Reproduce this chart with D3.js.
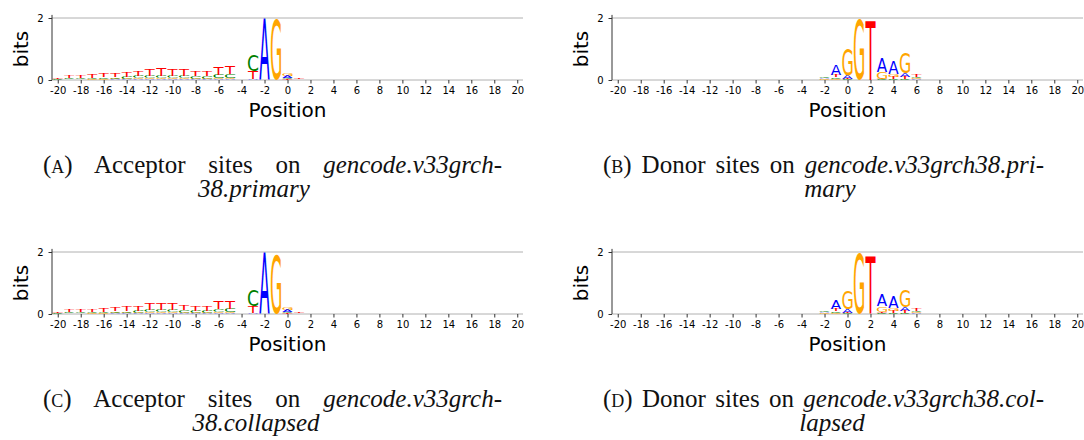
<!DOCTYPE html>
<html>
<head>
<meta charset="utf-8">
<script src="https://cdn.jsdelivr.net/npm/d3@7"></script>
<style>
  body { margin: 0; background: #fff; }
  svg { display: block; }
</style>
</head>
<body>
<svg id="fig" width="1084" height="440"></svg>
<script>
// ---- positions around the splice site and axis ticks ----
const positions = [-20,-19,-18,-17,-16,-15,-14,-13,-12,-11,-10,-9,-8,-7,-6,-5,-4,-3,-2,-1,0,
                   1,2,3,4,5,6,7,8,9,10,11,12,13,14,15,16,17,18,19,20];
const xTickValues = [-20,-18,-16,-14,-12,-10,-8,-6,-4,-2,0,2,4,6,8,10,12,14,16,18,20];
const yTickValues = [0, 2];
const bases = ["A", "C", "G", "T"];
const baseColors = { A: "#0000ff", C: "#008000", G: "#ffa500", T: "#ff0000" };

// ---- information content (bits) per base, positions -20 .. 20 ----
// Acceptor sites, gencode.v33grch38.primary
const accPrimA = [0.005,0.01,0.012,0.015,0.015,0.02,0.02,0.022,0.025,0.025,0.025,0.022,0.02,0.02,0.025,0.028,0.005,0.03,1.97,0.01,0.07,0.01,0,0,0,0,0,0,0,0,0,0,0,0,0,0,0,0,0,0,0];
const accPrimC = [0.02,0.03,0.035,0.04,0.05,0.06,0.065,0.07,0.08,0.09,0.08,0.075,0.07,0.07,0.11,0.12,0.01,0.53,0.005,0,0.04,0.01,0,0,0,0,0,0,0,0,0,0,0,0,0,0,0,0,0,0,0];
const accPrimG = [0.006,0.012,0.014,0.018,0.018,0.022,0.025,0.027,0.03,0.03,0.03,0.027,0.026,0.026,0.03,0.032,0.005,0.01,0.005,1.95,0.1,0.01,0,0,0,0,0,0,0,0,0,0,0,0,0,0,0,0,0,0,0];
const accPrimT = [0.05,0.07,0.09,0.11,0.12,0.14,0.16,0.18,0.21,0.23,0.21,0.19,0.17,0.17,0.25,0.26,0.01,0.24,0,0,0.03,0.02,0,0,0,0,0,0,0,0,0,0,0,0,0,0,0,0,0,0,0];

// Donor sites, gencode.v33grch38.primary
const donPrimA = [0,0,0,0,0,0,0,0,0,0,0,0,0,0,0,0,0,0.005,0.035,0.33,0.12,0,0.005,0.46,0.4,0.12,0.02,0,0,0,0,0,0,0,0,0,0,0,0,0,0];
const donPrimC = [0,0,0,0,0,0,0,0,0,0,0,0,0,0,0,0,0,0.005,0.04,0.05,0.02,0,0.005,0.02,0.03,0.03,0.04,0,0,0,0,0,0,0,0,0,0,0,0,0,0];
const donPrimG = [0,0,0,0,0,0,0,0,0,0,0,0,0,0,0,0,0,0.005,0.03,0.04,0.87,1.96,0,0.22,0.1,0.65,0.03,0,0,0,0,0,0,0,0,0,0,0,0,0,0];
const donPrimT = [0,0,0,0,0,0,0,0,0,0,0,0,0,0,0,0,0,0.005,0.015,0.06,0.02,0,1.92,0.02,0.06,0.06,0.08,0,0,0,0,0,0,0,0,0,0,0,0,0,0];

// Acceptor sites, gencode.v33grch38.collapsed
const accCollA = [0.005,0.01,0.012,0.014,0.015,0.018,0.02,0.02,0.023,0.024,0.024,0.02,0.02,0.02,0.024,0.026,0.005,0.03,1.97,0.01,0.06,0.01,0,0,0,0,0,0,0,0,0,0,0,0,0,0,0,0,0,0,0];
const accCollC = [0.02,0.03,0.033,0.038,0.047,0.056,0.06,0.066,0.075,0.085,0.077,0.07,0.066,0.066,0.1,0.11,0.01,0.5,0.005,0,0.035,0.01,0,0,0,0,0,0,0,0,0,0,0,0,0,0,0,0,0,0,0];
const accCollG = [0.006,0.011,0.013,0.017,0.017,0.02,0.023,0.025,0.028,0.028,0.028,0.025,0.024,0.024,0.028,0.03,0.005,0.01,0.005,1.93,0.09,0.01,0,0,0,0,0,0,0,0,0,0,0,0,0,0,0,0,0,0,0];
const accCollT = [0.05,0.065,0.085,0.1,0.11,0.13,0.15,0.17,0.2,0.21,0.2,0.18,0.16,0.16,0.23,0.24,0.01,0.21,0,0,0.03,0.02,0,0,0,0,0,0,0,0,0,0,0,0,0,0,0,0,0,0,0];

// Donor sites, gencode.v33grch38.collapsed
const donCollA = [0,0,0,0,0,0,0,0,0,0,0,0,0,0,0,0,0,0.005,0.03,0.3,0.11,0,0.005,0.38,0.38,0.12,0.02,0,0,0,0,0,0,0,0,0,0,0,0,0,0];
const donCollC = [0,0,0,0,0,0,0,0,0,0,0,0,0,0,0,0,0,0.005,0.035,0.05,0.02,0,0.005,0.03,0.03,0.03,0.04,0,0,0,0,0,0,0,0,0,0,0,0,0,0];
const donCollG = [0,0,0,0,0,0,0,0,0,0,0,0,0,0,0,0,0,0.005,0.025,0.04,0.62,1.98,0,0.19,0.1,0.55,0.03,0,0,0,0,0,0,0,0,0,0,0,0,0,0];
const donCollT = [0,0,0,0,0,0,0,0,0,0,0,0,0,0,0,0,0,0.005,0.015,0.06,0.02,0,1.88,0.03,0.06,0.06,0.08,0,0,0,0,0,0,0,0,0,0,0,0,0,0];

// ---- caption texts ----
const captionLetters = ["a", "b", "c", "d"];
const captionPlain = ["Acceptor sites on ", "Donor sites on ", "Acceptor sites on ", "Donor sites on "];
const captionItalic1 = ["gencode.v33grch-", "gencode.v33grch38.pri-", "gencode.v33grch-", "gencode.v33grch38.col-"];
const captionItalic2 = ["38.primary", "mary", "38.collapsed", "lapsed"];

// ---- layout ----
const plotW = 471, plotH = 62;
const panels = [
  { ox: 52,  oy: 18,  data: { A: accPrimA, C: accPrimC, G: accPrimG, T: accPrimT },
    cap: { x0: 43,  x1: 502,  y: 173, cx2: 254 } },
  { ox: 612, oy: 18,  data: { A: donPrimA, C: donPrimC, G: donPrimG, T: donPrimT },
    cap: { x0: 603, x1: 1044, y: 173, cx2: 830 } },
  { ox: 52,  oy: 252, data: { A: accCollA, C: accCollC, G: accCollG, T: accCollT },
    cap: { x0: 43,  x1: 502,  y: 407, cx2: 256 } },
  { ox: 612, oy: 252, data: { A: donCollA, C: donCollC, G: donCollG, T: donCollT },
    cap: { x0: 603, x1: 1044, y: 407, cx2: 832 } }
];
const captionFont = "Liberation Serif";
const captionSize = 25;
const captionLead = 24;

const x = d3.scaleLinear().domain([-20.5, 20.5]).range([0, plotW]);
const y = d3.scaleLinear().domain([0, 2]).range([plotH, 0]);
const letterWidth = 0.9;

// ink bounds of each glyph, so a letter can be stretched to fill its box exactly
const glyphFont = "DejaVu Sans";
const glyphSize = 100;
const ctx = document.createElement("canvas").getContext("2d");
ctx.font = `${glyphSize}px '${glyphFont}'`;
const ink = {};
bases.forEach(b => {
  const m = ctx.measureText(b);
  ink[b] = { l: m.actualBoundingBoxLeft, r: m.actualBoundingBoxRight,
             a: m.actualBoundingBoxAscent, d: m.actualBoundingBoxDescent };
});

const svg = d3.select("#fig");

panels.forEach((p, pi) => {
  const g = svg.append("g").attr("transform", `translate(${p.ox},${p.oy})`);

  // reference lines at 0 and 2 bits
  g.append("line").attr("x1", 0).attr("x2", plotW).attr("y1", y(2)).attr("y2", y(2))
    .attr("stroke", "#b0b0b0").attr("stroke-width", 1);
  g.append("line").attr("x1", 0).attr("x2", plotW).attr("y1", y(0)).attr("y2", y(0))
    .attr("stroke", "#b0b0b0").attr("stroke-width", 1);

  // stacked letters, smallest at the bottom
  const stacks = positions.map((pos, i) => {
    const items = bases.map(b => ({ base: b, v: p.data[b][i] }))
      .filter(d => d.v > 0)
      .sort((a, b) => a.v - b.v);
    let acc = 0;
    items.forEach(d => { d.y0 = acc; acc += d.v; d.y1 = acc; d.pos = pos; });
    return items;
  }).flat();

  g.append("g").selectAll("text.letter").data(stacks).join("text")
    .attr("class", "letter")
    .attr("font-family", glyphFont)
    .attr("font-size", glyphSize)
    .attr("fill", d => baseColors[d.base])
    .attr("transform", d => {
      const m = ink[d.base];
      const rx = x(d.pos - letterWidth / 2);
      const w = x(d.pos + letterWidth / 2) - rx;
      const ry = y(d.y1);
      const h = y(d.y0) - ry;
      const sx = w / (m.l + m.r);
      const sy = h / (m.a + m.d);
      return `translate(${rx + m.l * sx},${ry + m.a * sy}) scale(${sx},${sy})`;
    })
    .text(d => d.base);

  // bottom axis
  const xAxis = d3.axisBottom(x).tickValues(xTickValues).tickSize(3.5).tickPadding(3.5)
    .tickFormat(d => String(d));
  const xg = g.append("g").attr("transform", `translate(0,${y(0)})`).call(xAxis);
  xg.select(".domain").remove();
  xg.selectAll(".tick line").attr("stroke", "#333").attr("stroke-width", 1);
  xg.selectAll(".tick text").attr("font-family", "DejaVu Sans").attr("font-size", 10).attr("fill", "#000");

  // left axis
  const yAxis = d3.axisLeft(y).tickValues(yTickValues).tickSize(3.5).tickPadding(5)
    .tickFormat(d3.format("d"));
  const yg = g.append("g").call(yAxis);
  yg.select(".domain").remove();
  yg.selectAll(".tick line").attr("stroke", "#333");
  yg.selectAll(".tick text").attr("font-family", "DejaVu Sans").attr("font-size", 10).attr("fill", "#000");
  g.append("line").attr("x1", 0).attr("x2", 0).attr("y1", y(2.1)).attr("y2", y(0))
    .attr("stroke", "#333").attr("stroke-width", 1);

  // axis titles
  g.append("text").attr("transform", `translate(-24,${plotH / 2}) rotate(-90)`)
    .attr("text-anchor", "middle").attr("font-family", "DejaVu Sans").attr("font-size", 20)
    .attr("fill", "#000").text("bits");
  g.append("text").attr("x", plotW / 2).attr("y", plotH + 37)
    .attr("text-anchor", "middle").attr("font-family", "DejaVu Sans").attr("font-size", 20)
    .attr("fill", "#000").text("Position");

  // caption: justified first line, centred second line
  const c = p.cap;
  const t1 = svg.append("text").attr("x", c.x0).attr("y", c.y)
    .attr("font-family", captionFont).attr("font-size", captionSize).attr("fill", "#111");
  t1.append("tspan").text("(");
  t1.append("tspan").attr("font-variant", "small-caps").text(captionLetters[pi]);
  t1.append("tspan").text(") " + captionPlain[pi]);
  t1.append("tspan").attr("font-style", "italic").text(captionItalic1[pi]);
  const natural = t1.node().getComputedTextLength();
  const gaps = (") " + captionPlain[pi]).split(" ").length - 1;
  t1.attr("word-spacing", Math.max(0, (c.x1 - c.x0 - natural) / gaps));

  svg.append("text").attr("x", c.cx2).attr("y", c.y + captionLead)
    .attr("text-anchor", "middle")
    .attr("font-family", captionFont).attr("font-size", captionSize).attr("font-style", "italic")
    .attr("fill", "#111").text(captionItalic2[pi]);
});
</script>
</body>
</html>
